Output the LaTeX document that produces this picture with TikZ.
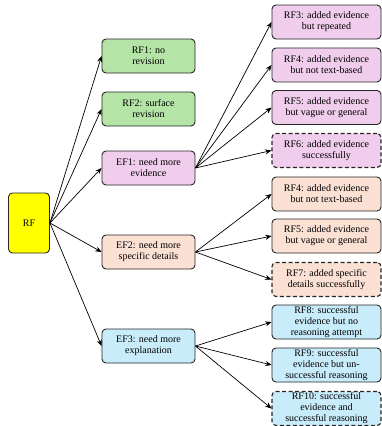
\documentclass[tikz,border=0pt]{standalone}
\usepackage{fontspec}
\setmainfont{Liberation Serif}
\usetikzlibrary{arrows.meta}

\definecolor{rfyellow}{HTML}{FFFF00}
\definecolor{rfgreen}{HTML}{B4E4A6}
\definecolor{rfpink}{HTML}{F0CDEC}
\definecolor{rfpeach}{HTML}{FBE0D4}
\definecolor{rfblue}{HTML}{C9ECFA}

\begin{document}
\begin{tikzpicture}[x=1pt,y=-1pt,
    box/.style={draw=black!85,line width=0.9pt,rounded corners=4pt,align=center,
        font=\fontsize{10}{11}\selectfont,inner sep=0.5pt,
        minimum width=93pt,minimum height=34pt},
    leaf/.style={box,minimum width=109pt},
    open/.style={dashed,dash pattern=on 4pt off 2.5pt,line width=1.1pt},
    edge/.style={-{Stealth[length=2.2mm,width=1.8mm]},line width=0.7pt}]
            \useasboundingbox (0,0) rectangle (382,426);

            % root
            \node[box,fill=rfyellow,minimum width=41pt,minimum height=60pt] (rf) at (29,223) {RF};

            % first level
            \node[box,fill=rfgreen] (rf1) at (148.5,56) {RF1: no\\revision};
            \node[box,fill=rfgreen] (rf2) at (148.5,109) {RF2: surface\\revision};
            \node[box,fill=rfpink] (ef1) at (148.5,168) {EF1: need more\\evidence};
            \node[box,fill=rfpeach] (ef2) at (148.5,252) {EF2: need more\\specific details};
            \node[box,fill=rfblue] (ef3) at (148.5,346) {EF3: need more\\explanation};

            % second level
            \node[leaf,fill=rfpink] (rf3) at (326.5,22) {RF3: added evidence\\but repeated};
            \node[leaf,fill=rfpink] (rf4) at (326.5,65) {RF4: added evidence\\but not text-based};
            \node[leaf,fill=rfpink] (rf5) at (326.5,107.5) {RF5: added evidence\\but vague or general};
            \node[leaf,fill=rfpink,open] (rf6) at (326.5,150.5) {RF6: added evidence\\successfully};
            \node[leaf,fill=rfpeach] (rf4b) at (326.5,194) {RF4: added evidence\\but not text-based};
            \node[leaf,fill=rfpeach] (rf5b) at (326.5,236) {RF5: added evidence\\but vague or general};
            \node[leaf,fill=rfpeach,open] (rf7) at (326.5,279.5) {RF7: added specific\\details successfully};
            \node[leaf,fill=rfblue] (rf8) at (326.5,322) {RF8: successful\\evidence but no\\reasoning attempt};
            \node[leaf,fill=rfblue] (rf9) at (326.5,365) {RF9: successful\\evidence but un-\\successful reasoning};
            \node[leaf,fill=rfblue,open] (rf10) at (326.5,408.5) {RF10: successful\\evidence and\\successful reasoning};

            \foreach \t in {rf1,rf2,ef1,ef2,ef3}
                \draw[edge] (rf.east) -- (\t.west);
            \foreach \t in {rf3,rf4,rf5,rf6}
                \draw[edge] (ef1.east) -- (\t.west);
            \foreach \t in {rf4b,rf5b,rf7}
                \draw[edge] (ef2.east) -- (\t.west);
            \foreach \t in {rf8,rf9,rf10}
                \draw[edge] (ef3.east) -- (\t.west);
        \end{tikzpicture}
\end{document}
